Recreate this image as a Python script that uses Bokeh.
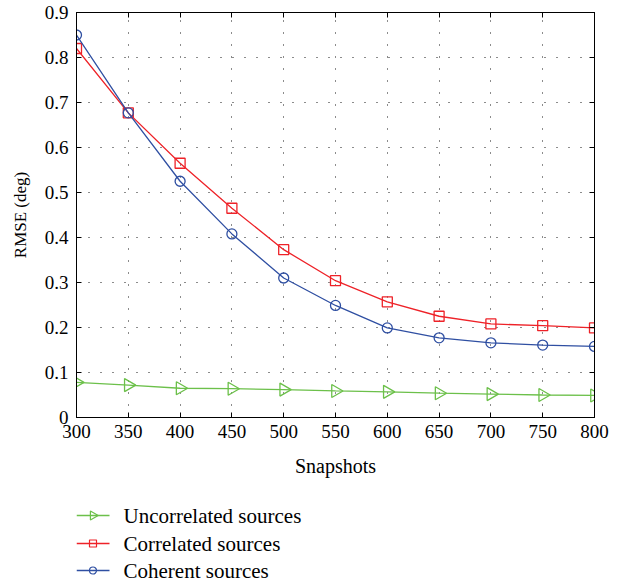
from bokeh.plotting import figure
from bokeh.layouts import column
from bokeh.core.properties import value
from bokeh.models import FixedTicker, LinearAxis, Range1d
from bokeh.embed import file_html
from bokeh.resources import INLINE

snapshots = [300, 350, 400, 450, 500, 550, 600, 650, 700, 750, 800]
uncorrelated = [0.078, 0.072, 0.065, 0.064, 0.062, 0.059, 0.057, 0.054, 0.052, 0.050, 0.049]
correlated = [0.820, 0.677, 0.565, 0.465, 0.373, 0.304, 0.257, 0.225, 0.208, 0.204, 0.199]
coherent = [0.850, 0.677, 0.525, 0.408, 0.310, 0.249, 0.199, 0.177, 0.166, 0.161, 0.158]
x_ticks = [300, 350, 400, 450, 500, 550, 600, 650, 700, 750, 800]
y_ticks = [0, 0.1, 0.2, 0.3, 0.4, 0.5, 0.6, 0.7, 0.8, 0.9]
series_names = ["Uncorrelated sources", "Correlated sources", "Coherent sources"]

FONT = "Liberation Serif"
GREEN = "#6cc04a"
RED = "#ee2228"
BLUE = "#2f4fa2"

p = figure(width=622, height=485, output_backend="svg", toolbar_location=None,
           x_range=Range1d(300, 800), y_range=Range1d(0, 0.9),
           min_border_left=76, min_border_right=28, min_border_top=12, min_border_bottom=68)
p.outline_line_color = "black"
p.outline_line_width = 1
p.background_fill_color = "white"
p.border_fill_color = "white"

for ax in [p.xaxis[0], p.yaxis[0]]:
    ax.major_tick_in = 5
    ax.major_tick_out = 0
    ax.minor_tick_in = 0
    ax.minor_tick_out = 0
    ax.axis_line_color = "black"
    ax.major_tick_line_color = "black"
    ax.major_label_text_font = FONT
    ax.major_label_text_font_size = "19px"
    ax.major_label_text_color = "black"
    ax.axis_label_text_font = FONT
    ax.axis_label_text_font_style = "normal"
    ax.axis_label_text_color = "black"

p.xaxis.ticker = FixedTicker(ticks=x_ticks)
p.yaxis.ticker = FixedTicker(ticks=y_ticks)
p.yaxis.major_label_overrides = {0: "0"}
p.xaxis.axis_label = "Snapshots"
p.yaxis.axis_label = "RMSE (deg)"
p.xaxis.axis_label_text_font_size = "20px"
p.yaxis.axis_label_text_font_size = "17px"
p.xaxis.major_label_standoff = 7
p.xaxis.axis_label_standoff = 14
p.yaxis.major_label_standoff = 8
p.yaxis.axis_label_standoff = 12

right = LinearAxis(ticker=FixedTicker(ticks=y_ticks), major_label_text_font_size="0px",
                   major_tick_in=5, major_tick_out=0, minor_tick_in=0, minor_tick_out=0)
p.add_layout(right, "right")
top = LinearAxis(ticker=FixedTicker(ticks=x_ticks), major_label_text_font_size="0px",
                 major_tick_in=5, major_tick_out=0, minor_tick_in=0, minor_tick_out=0)
p.add_layout(top, "above")

for g in [p.xgrid[0], p.ygrid[0]]:
    g.grid_line_color = "black"
    g.grid_line_dash = "1 11"
    g.grid_line_width = 1
    g.grid_line_alpha = 0.9

p.line(snapshots, uncorrelated, line_color=GREEN, line_width=1.3)
p.scatter(snapshots, uncorrelated, marker="triangle", angle=-1.5708, size=13,
          line_color=GREEN, fill_color=None, line_width=1.3)
p.line(snapshots, correlated, line_color=RED, line_width=1.3)
p.scatter(snapshots, correlated, marker="square", size=10,
          line_color=RED, fill_color=None, line_width=1.3)
p.line(snapshots, coherent, line_color=BLUE, line_width=1.3)
p.scatter(snapshots, coherent, marker="circle", size=10,
          line_color=BLUE, fill_color=None, line_width=1.3)

# legend panel below the chart; its ranges map 1:1 onto page pixels
q = figure(width=622, height=97, output_backend="svg", toolbar_location=None,
           x_range=Range1d(76, 594), y_range=Range1d(97, 0),
           x_axis_location=None, y_axis_location=None,
           min_border_left=76, min_border_right=28, min_border_top=0, min_border_bottom=0)
q.outline_line_color = None
q.xgrid.visible = False
q.ygrid.visible = False

KEY_X0, KEY_X1, TEXT_X = 76, 109, 123
ROW_Y = [30, 58, 85]
for name, color, marker, size, ang, yy in zip(series_names, [GREEN, RED, BLUE],
                                              ["triangle", "square", "circle"], [9, 7, 7],
                                              [-1.5708, 0, 0], ROW_Y):
    q.line([KEY_X0, KEY_X1], [yy, yy], line_color=color, line_width=1.3)
    q.scatter([(KEY_X0 + KEY_X1) / 2], [yy], marker=marker, size=size, angle=ang,
              line_color=color, fill_color=None, line_width=1.2)
    q.text([TEXT_X], [yy], text=[name], text_font=value(FONT), text_font_size="21px",
           text_color="black", text_baseline="middle", text_align="left")

layout = column(p, q, spacing=0)
open("out.html", "w").write(file_html(layout, INLINE))
